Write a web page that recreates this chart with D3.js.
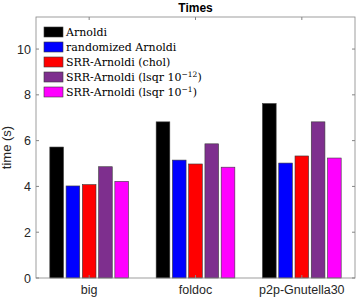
<!DOCTYPE html>
<html>
<head>
<meta charset="utf-8">
<script src="https://cdn.jsdelivr.net/npm/d3@7"></script>
<style>
  body { margin: 0; background: white; }
  svg { display: block; }
</style>
</head>
<body>
<svg id="chart" width="357" height="300"></svg>
<script>
const categories = ['big', 'foldoc', 'p2p-Gnutella30'];
const seriesNames = ['Arnoldi', 'randomized Arnoldi', 'SRR-Arnoldi (chol)', 'SRR-Arnoldi (lsqr 10', 'SRR-Arnoldi (lsqr 10'];
const seriesExp = [null, null, null, '\u221212', '\u22121'];
const seriesColors = ['#000000', '#0000ff', '#ff0000', '#7e2f8e', '#ff00ff'];
const arnoldi = [5.72, 6.82, 7.62];
const randArnoldi = [4.02, 5.15, 5.02];
const srrChol = [4.08, 4.98, 5.33];
const srrLsqr12 = [4.86, 5.86, 6.82];
const srrLsqr1 = [4.22, 4.84, 5.24];
const yTicks = [0, 2, 4, 6, 8, 10];

const series = [arnoldi, randArnoldi, srrChol, srrLsqr12, srrLsqr1];

const svg = d3.select('#chart');
const margin = { left: 36, right: 2, top: 17, bottom: 22 };
const W = 357, H = 300;
const axisColor = '#858585';
const sans = 'Liberation Sans, Arial, sans-serif';

const x = d3.scaleLinear().domain([0.5, 3.5]).range([margin.left, W - margin.right]);
const y = d3.scaleLinear().domain([0, 11.4]).range([H - margin.bottom, margin.top]);
const inner = d3.scaleBand().domain(d3.range(series.length)).range([-0.37, 0.37]).paddingInner(0.16);

// bars
categories.forEach((cat, ci) => {
    series.forEach((vals, si) => {
        const x0 = x(ci + 1 + inner(si));
        const x1 = x(ci + 1 + inner(si) + inner.bandwidth());
        svg.append('rect')
            .attr('x', x0)
            .attr('y', y(vals[ci]))
            .attr('width', x1 - x0)
            .attr('height', y(0) - y(vals[ci]))
            .attr('fill', seriesColors[si])
            .attr('stroke', '#3a3a3a')
            .attr('stroke-width', 0.6);
    });
});

// box + ticks
const gAxes = svg.append('g');
gAxes.append('rect')
    .attr('x', x(0.5)).attr('y', y(11.4))
    .attr('width', x(3.5) - x(0.5)).attr('height', y(0) - y(11.4))
    .attr('fill', 'none').attr('stroke', axisColor).attr('stroke-width', 0.8);

yTicks.forEach(t => {
    gAxes.append('line').attr('x1', x(0.5)).attr('x2', x(0.5) + 3)
        .attr('y1', y(t)).attr('y2', y(t)).attr('stroke', axisColor);
    gAxes.append('line').attr('x1', x(3.5)).attr('x2', x(3.5) - 3)
        .attr('y1', y(t)).attr('y2', y(t)).attr('stroke', axisColor);
    gAxes.append('text').attr('x', x(0.5) - 5).attr('y', y(t) + 4.5)
        .attr('text-anchor', 'end')
        .attr('font-family', sans)
        .attr('font-size', 12.5).attr('fill', '#262626').text(t);
});

categories.forEach((cat, ci) => {
    gAxes.append('line').attr('x1', x(ci + 1)).attr('x2', x(ci + 1))
        .attr('y1', y(0)).attr('y2', y(0) - 3).attr('stroke', axisColor);
    gAxes.append('line').attr('x1', x(ci + 1)).attr('x2', x(ci + 1))
        .attr('y1', y(11.4)).attr('y2', y(11.4) + 3).attr('stroke', axisColor);
    gAxes.append('text').attr('x', x(ci + 1)).attr('y', y(0) + 16)
        .attr('text-anchor', 'middle')
        .attr('font-family', sans)
        .attr('font-size', 12.5).attr('fill', '#262626').text(cat);
});

// title
svg.append('text').attr('x', (x(0.5) + x(3.5)) / 2).attr('y', 12)
    .attr('text-anchor', 'middle')
    .attr('font-family', sans)
    .attr('font-weight', 'bold').attr('font-size', 12).attr('fill', '#000')
    .text('Times');

// y label
svg.append('text')
    .attr('transform', `translate(11,${(y(0) + y(11.4)) / 2}) rotate(-90)`)
    .attr('text-anchor', 'middle')
    .attr('font-family', sans)
    .attr('font-size', 13).attr('fill', '#262626')
    .text('time (s)');

// legend
const legend = svg.append('g');
seriesNames.forEach((name, si) => {
    const ly = 27 + si * 15;
    legend.append('rect').attr('x', 44).attr('y', ly)
        .attr('width', 19).attr('height', 10)
        .attr('fill', seriesColors[si]).attr('stroke', '#3a3a3a').attr('stroke-width', 0.6);
    const t = legend.append('text').attr('x', 66).attr('y', ly + 9)
        .attr('font-family', 'DejaVu Serif, Liberation Serif, serif')
        .attr('font-size', 11).attr('fill', '#000');
    t.append('tspan').text(name);
    if (seriesExp[si]) {
        t.append('tspan').attr('dy', -4).attr('font-size', 7.5).text(seriesExp[si]);
        t.append('tspan').attr('dy', 4).text(')');
    }
});
</script>
</body>
</html>
